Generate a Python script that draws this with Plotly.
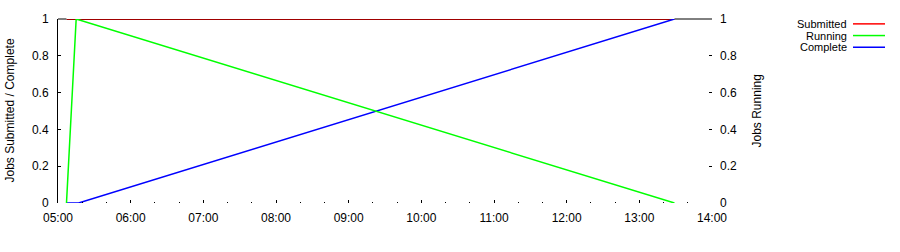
import plotly.graph_objects as go

day = "2020-01-01 "
submitted_t = ["05:07", "13:29"]
submitted_v = [1, 1]
running_t = ["05:07", "05:15", "13:29"]
running_v = [0, 1, 0]
complete_t = ["05:07", "05:17", "13:29"]
complete_v = [0, 0, 1]
x_ticks = ["05:00", "06:00", "07:00", "08:00", "09:00", "10:00", "11:00", "12:00", "13:00", "14:00"]
y_ticks = [0, 0.2, 0.4, 0.6, 0.8, 1]
y_labels = ["0", "0.2", "0.4", "0.6", "0.8", "1"]
legend_names = ["Submitted", "Running", "Complete"]
legend_colors = ["#ff0000", "#00ff00", "#0000ff"]

FONT = dict(family="Liberation Sans, Arial, sans-serif", size=12, color="black")
LFONT = dict(family="Liberation Sans, Arial, sans-serif", size=11, color="black")

fig = go.Figure()
fig.add_trace(go.Scatter(x=[day + t for t in submitted_t], y=submitted_v, mode="lines",
                         line=dict(color="#a00000", width=2), showlegend=False))
fig.add_trace(go.Scatter(x=[day + t for t in running_t], y=running_v, mode="lines",
                         line=dict(color="#00ff00", width=1.5), yaxis="y2", showlegend=False))
fig.add_trace(go.Scatter(x=[day + t for t in complete_t], y=complete_v, mode="lines",
                         line=dict(color="#0000ff", width=1.5), showlegend=False))

fig.update_layout(
    width=900, height=252,
    margin=dict(l=58, r=188, t=14, b=49),
    paper_bgcolor="white", plot_bgcolor="white",
    font=FONT,
    xaxis=dict(type="date", range=[day + "05:00", day + "14:00"],
               tickvals=[day + t for t in x_ticks], ticktext=x_ticks,
               ticks="inside", ticklen=3, tickcolor="black", tickwidth=1,
               minor=dict(dtick=20 * 60 * 1000, ticks="inside", ticklen=1, tickcolor="black"),
               showgrid=False, showline=False, zeroline=False, ticklabelstandoff=6),
    yaxis=dict(range=[0, 1], tickvals=y_ticks, ticktext=y_labels,
               ticks="inside", ticklen=3, tickcolor="black",
               showgrid=False, zeroline=False, showline=True, linecolor="black", linewidth=1,
               ticklabelstandoff=6),
    yaxis2=dict(range=[0, 1], tickvals=y_ticks, ticktext=y_labels, overlaying="y", side="right",
                ticks="inside", ticklen=3, tickcolor="black",
                showgrid=False, zeroline=False, showline=False, ticklabelstandoff=7),
    showlegend=False,
)

# top border (visible only where the submitted line does not cover it)
fig.add_shape(type="line", xref="x", yref="paper", x0=day + "05:00", x1=day + submitted_t[0],
              y0=1, y1=1, line=dict(color="black", width=1), layer="below")
fig.add_shape(type="line", xref="x", yref="paper", x0=day + submitted_t[-1], x1=day + "14:00",
              y0=1, y1=1, line=dict(color="black", width=1), layer="below")

# axis titles
fig.add_annotation(text="Jobs Submitted / Complete", xref="paper", yref="paper",
                   x=(10 - 58) / 654, y=(203 - 108) / 189, textangle=-90, showarrow=False,
                   xanchor="center", yanchor="middle", font=FONT)
fig.add_annotation(text="Jobs Running", xref="paper", yref="paper",
                   x=(757 - 58) / 654, y=(203 - 109) / 189, textangle=-90, showarrow=False,
                   xanchor="center", yanchor="middle", font=FONT)

# legend (text right-aligned, swatch to the right)
for i, (name, col) in enumerate(zip(legend_names, legend_colors)):
    ypx = 19 + 12 * i
    yp = (203 - ypx) / 189
    fig.add_annotation(text=name, xref="paper", yref="paper",
                       x=(848 - 58) / 654, y=yp, showarrow=False, borderpad=0,
                       xanchor="right", yanchor="middle", font=LFONT)
    fig.add_shape(type="line", xref="paper", yref="paper",
                  x0=(853 - 58) / 654, x1=(885 - 58) / 654, y0=yp, y1=yp,
                  line=dict(color=col, width=1.5))

fig.write_html("out.html")
